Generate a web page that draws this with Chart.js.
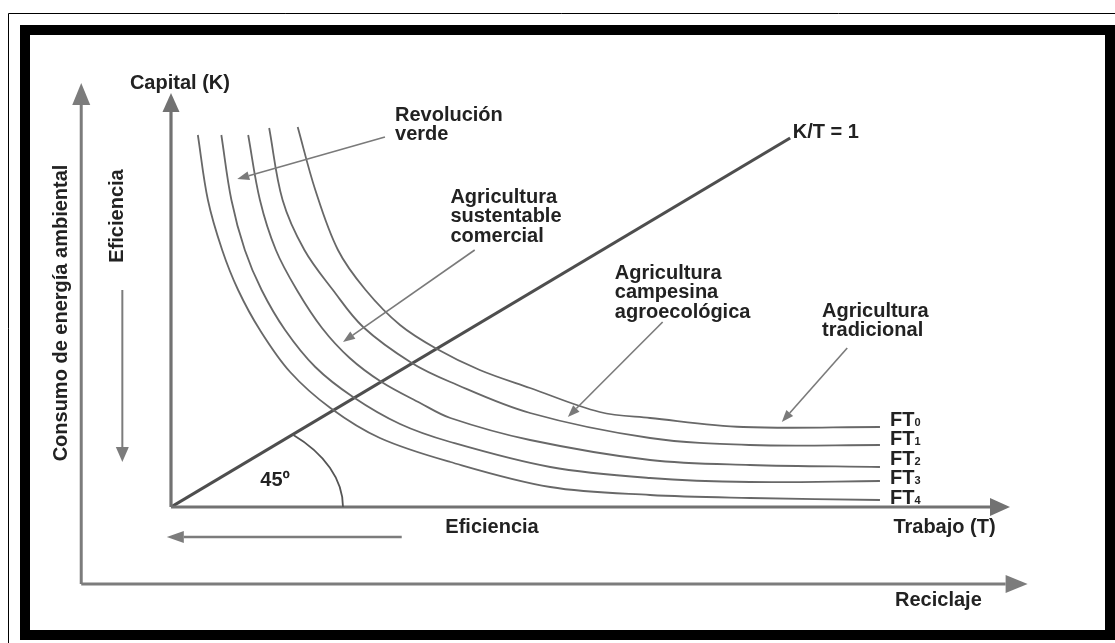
<!DOCTYPE html>
<html>
<head>
<meta charset="utf-8">
<script src="https://cdn.jsdelivr.net/npm/chart.js@4.4.1/dist/chart.umd.min.js"></script>
<style>
  html, body { margin: 0; padding: 0; background: #fff; }
  #wrap { width: 1115px; height: 643px; position: relative; }
</style>
</head>
<body>
<div id="wrap"><canvas id="chart"></canvas></div>
<script>
// Isocuantas FT0..FT4, puntos (trabajo T, capital K)
const curveNames = ['FT0', 'FT1', 'FT2', 'FT3', 'FT4'];
const ft0 = [[1.51,7.60],[1.72,6.34],[1.99,5.14],[2.32,4.34],[2.73,3.64],[3.17,3.16],[3.68,2.74],[4.28,2.38],[5.11,1.90],[5.71,1.78],[6.82,1.60],[8.45,1.60]];
const ft1 = [[1.17,7.58],[1.33,6.14],[1.59,5.14],[1.93,4.34],[2.29,3.60],[2.87,2.88],[3.33,2.50],[4.28,1.88],[5.71,1.38],[6.90,1.24],[8.45,1.24]];
const ft2 = [[0.92,7.44],[1.06,6.14],[1.25,5.14],[1.50,4.34],[1.80,3.58],[2.13,2.98],[2.51,2.50],[2.97,2.08],[3.33,1.78],[4.28,1.34],[5.71,0.94],[6.90,0.84],[8.45,0.80]];
const ft3 = [[0.60,7.44],[0.72,6.14],[0.88,5.14],[1.08,4.34],[1.36,3.54],[1.72,2.80],[2.17,2.20],[2.73,1.66],[3.33,1.30],[4.52,0.80],[5.71,0.58],[6.90,0.50],[8.45,0.52]];
const ft4 = [[0.32,7.44],[0.44,6.14],[0.61,5.14],[0.80,4.34],[1.06,3.54],[1.42,2.70],[1.90,1.98],[2.49,1.38],[3.33,0.90],[4.52,0.40],[5.71,0.24],[6.90,0.18],[8.45,0.14]];
const curves = [ft0, ft1, ft2, ft3, ft4];

// recta K/T = 1
const diagonal = [[0, 0], [7.38, 7.38]];
const arcRadius = 2.05;

const axisRange = { t: 10, k: 8.28 };

// textos y flechas, en unidades de los ejes
const curveLabelPos = [[8.57,1.76],[8.57,1.38],[8.57,0.98],[8.57,0.60],[8.57,0.20]];
const notes = [
  { lines: ['Revolución', 'verde'], at: [2.67, 7.84], from: [2.55, 7.40], to: [0.79, 6.56] },
  { lines: ['Agricultura', 'sustentable', 'comercial'], at: [3.33, 6.20], from: [3.62, 5.14], to: [2.05, 3.30] },
  { lines: ['Agricultura', 'campesina', 'agroecológica'], at: [5.29, 4.68], from: [5.86, 3.70], to: [4.73, 1.80] },
  { lines: ['Agricultura', 'tradicional'], at: [7.76, 3.92], from: [8.06, 3.18], to: [7.28, 1.70] }
];

const FONT = 'bold 20px "Liberation Sans", Arial, sans-serif';
const INK = '#222';

function arrow(ctx, x1, y1, x2, y2, len, half, width, color) {
  const a = Math.atan2(y2 - y1, x2 - x1);
  const bx = x2 - len * Math.cos(a), by = y2 - len * Math.sin(a);
  ctx.strokeStyle = color;
  ctx.fillStyle = color;
  ctx.lineWidth = width;
  ctx.beginPath();
  ctx.moveTo(x1, y1);
  ctx.lineTo(bx, by);
  ctx.stroke();
  ctx.beginPath();
  ctx.moveTo(x2, y2);
  ctx.lineTo(bx + half * Math.sin(a), by - half * Math.cos(a));
  ctx.lineTo(bx - half * Math.sin(a), by + half * Math.cos(a));
  ctx.closePath();
  ctx.fill();
}

const decor = {
  id: 'decor',
  beforeDraw(chart) {
    const ctx = chart.ctx;
    ctx.save();
    ctx.fillStyle = '#fff';
    ctx.fillRect(0, 0, chart.width, chart.height);
    // marco
    ctx.strokeStyle = '#000';
    ctx.lineWidth = 1;
    ctx.beginPath();
    ctx.moveTo(8.5, chart.height);
    ctx.lineTo(8.5, 13.5);
    ctx.lineTo(chart.width, 13.5);
    ctx.stroke();
    ctx.lineWidth = 10;
    ctx.strokeRect(25, 30, 1085, 605);
    ctx.restore();
  },
  afterDraw(chart) {
    const ctx = chart.ctx;
    const X = v => chart.scales.x.getPixelForValue(v);
    const Y = v => chart.scales.y.getPixelForValue(v);
    ctx.save();

    // ejes exteriores
    arrow(ctx, X(-1.07), Y(-1.54), X(-1.07), Y(8.48), 22, 9, 3, '#7c7c7c');
    arrow(ctx, X(-1.07), Y(-1.54), X(10.21), Y(-1.54), 22, 9, 3, '#7c7c7c');
    // ejes T, K
    arrow(ctx, X(0), Y(0), X(0), Y(axisRange.k), 19, 8.5, 3.2, '#727272');
    arrow(ctx, X(0), Y(0), X(axisRange.t), Y(0), 20, 9, 3.2, '#727272');
    // flechas de eficiencia
    arrow(ctx, X(-0.58), Y(4.34), X(-0.58), Y(0.90), 15, 6.5, 2, '#7c7c7c');
    arrow(ctx, X(2.75), Y(-0.60), X(-0.05), Y(-0.60), 17, 6, 2.5, '#7c7c7c');

    // arco de 45
    ctx.strokeStyle = '#555';
    ctx.lineWidth = 1.8;
    ctx.beginPath();
    ctx.ellipse(X(0), Y(0), X(arcRadius) - X(0), Y(0) - Y(arcRadius), 0, -Math.PI / 4, 0);
    ctx.stroke();

    // flechas de las notas
    notes.forEach(n => {
      arrow(ctx, X(n.from[0]), Y(n.from[1]), X(n.to[0]), Y(n.to[1]), 12, 4.5, 1.6, '#7a7a7a');
    });

    ctx.fillStyle = INK;
    ctx.font = FONT;
    ctx.textBaseline = 'middle';
    ctx.textAlign = 'left';
    notes.forEach(n => {
      n.lines.forEach((s, i) => ctx.fillText(s, X(n.at[0]), Y(n.at[1]) + i * 19.5));
    });

    ctx.fillText('K/T = 1', X(7.41), Y(7.50));
    ctx.fillText('Capital (K)', X(-0.49), Y(8.48));
    ctx.fillText('Trabajo (T)', X(8.61), Y(-0.40));
    ctx.fillText('Eficiencia', X(3.27), Y(-0.40));
    ctx.fillText('Reciclaje', X(8.63), Y(-1.86));
    ctx.textAlign = 'center';
    ctx.fillText('45º', X(1.24), Y(0.54));

    // etiquetas FT con subindice
    ctx.textAlign = 'left';
    ctx.textBaseline = 'alphabetic';
    curveNames.forEach((name, i) => {
      const x = X(curveLabelPos[i][0]);
      const y = Y(curveLabelPos[i][1]) + 7;
      ctx.font = FONT;
      ctx.fillText('FT', x, y);
      const w = ctx.measureText('FT').width;
      ctx.font = 'bold 11px "Liberation Sans", Arial, sans-serif';
      ctx.fillText(name.slice(2), x + w, y);
    });

    // textos verticales
    ctx.font = FONT;
    ctx.textAlign = 'center';
    ctx.textBaseline = 'middle';
    [['Consumo de energía ambiental', -1.31, 3.88], ['Eficiencia', -0.64, 5.82]].forEach(([s, tx, ky]) => {
      ctx.save();
      ctx.translate(X(tx), Y(ky));
      ctx.rotate(-Math.PI / 2);
      ctx.fillText(s, 0, 0);
      ctx.restore();
    });

    ctx.restore();
  }
};

const datasets = curves.map((pts, i) => ({
  label: curveNames[i],
  data: pts.map(([t, k]) => ({ x: t, y: k })),
  showLine: true,
  borderColor: '#686868',
  borderWidth: 1.8,
  pointRadius: 0,
  tension: 0.35,
  fill: false
}));
datasets.push({
  label: 'K/T = 1',
  data: diagonal.map(([t, k]) => ({ x: t, y: k })),
  showLine: true,
  borderColor: '#4e4e4e',
  borderWidth: 3.2,
  pointRadius: 0,
  fill: false
});

new Chart(document.getElementById('chart'), {
  type: 'scatter',
  data: { datasets },
  options: {
    responsive: true,
    maintainAspectRatio: false,
    animation: false,
    layout: { padding: { left: 171, right: 105, top: 93, bottom: 136 } },
    scales: {
      x: { type: 'linear', min: 0, max: axisRange.t, display: false },
      y: { type: 'linear', min: 0, max: axisRange.k, display: false }
    },
    plugins: {
      legend: { display: false },
      tooltip: { enabled: false }
    }
  },
  plugins: [decor]
});
</script>
</body>
</html>
